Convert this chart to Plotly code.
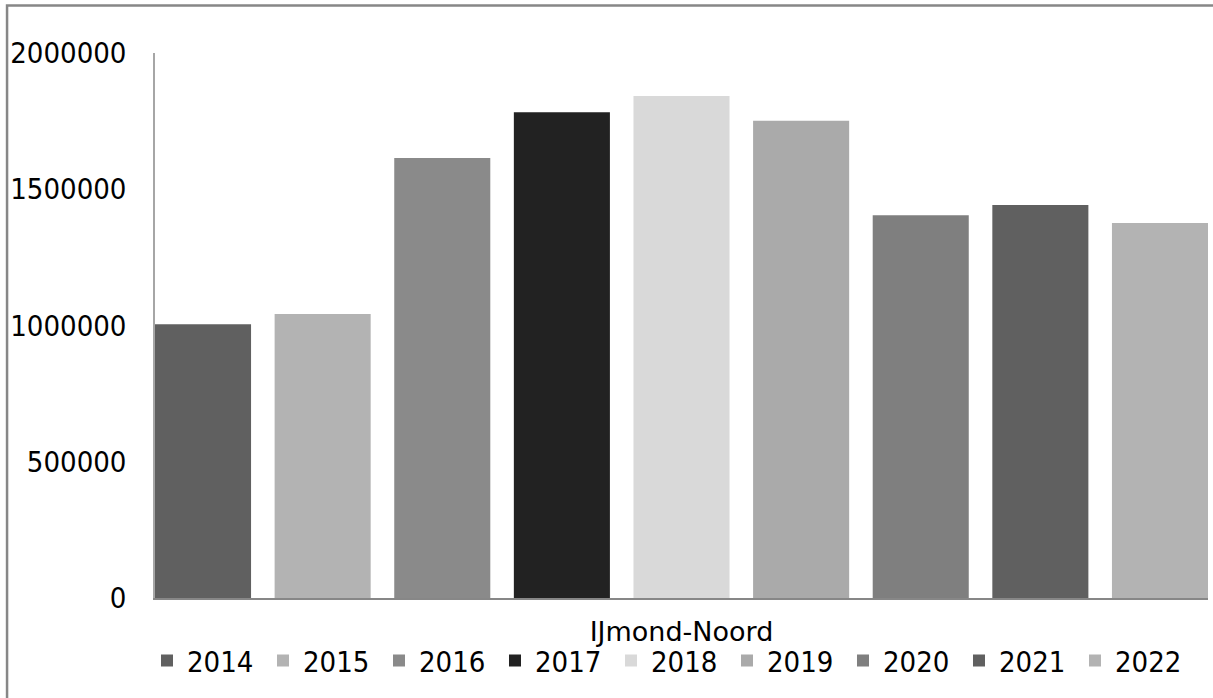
import plotly.graph_objects as go

# Annual totals for one region, one bar per year
region = ["IJmond-Noord"]
years = ["2014", "2015", "2016", "2017", "2018", "2019", "2020", "2021", "2022"]
totals = [1005000, 1042000, 1615000, 1783000, 1842000, 1751000, 1405000, 1442000, 1376000]
bar_colors = ["#606060", "#b3b3b3", "#8a8a8a", "#222222", "#d9d9d9",
              "#aaaaaa", "#7f7f7f", "#606060", "#b3b3b3"]
y_ticks = [0, 500000, 1000000, 1500000, 2000000]

FONT = "DejaVu Sans Condensed, DejaVu Sans, Verdana, sans-serif"
WIDE_FONT = "DejaVu Sans, Verdana, sans-serif"

fig = go.Figure()
for year, value, color in zip(years, totals, bar_colors):
    fig.add_trace(go.Bar(
        name=year,
        x=region,
        y=[value],
        marker=dict(color=color, line=dict(width=0)),
    ))

# half of the inner gap trimmed at both ends so the outer bars touch the axis ends
group_gap = 0.197
edge = (1 / len(years)) * group_gap / 2

fig.update_layout(
    width=1213,
    height=698,
    barmode="group",
    bargap=0,
    bargroupgap=group_gap,
    paper_bgcolor="white",
    plot_bgcolor="white",
    margin=dict(l=155, r=5, t=53, b=100),
    font=dict(family=FONT, size=29, color="black"),
    showlegend=True,
    legend=dict(
        orientation="h",
        x=-0.0076,
        xanchor="left",
        y=-0.115,
        yanchor="middle",
        entrywidth=71,
        entrywidthmode="pixels",
        itemclick=False,
        font=dict(family=FONT, size=29, color="black"),
        bgcolor="rgba(0,0,0,0)",
        traceorder="normal",
    ),
    xaxis=dict(
        range=[-0.5 + edge, 0.5 - edge],
        showline=True,
        linecolor="#878787",
        linewidth=2,
        ticks="",
        showgrid=False,
        zeroline=False,
        ticklabelstandoff=9,
        tickfont=dict(family=WIDE_FONT, size=27, color="black"),
        fixedrange=True,
    ),
    yaxis=dict(
        range=[0, 2000000],
        tickvals=y_ticks,
        tickformat="d",
        showline=True,
        linecolor="#a6a6a6",
        linewidth=1.5,
        ticks="",
        showgrid=False,
        zeroline=False,
        ticklabelstandoff=21,
        tickfont=dict(family=FONT, size=29, color="black"),
        fixedrange=True,
    ),
    shapes=[
        # chart-area frame (top and left edges visible on the page)
        dict(type="rect", xref="paper", yref="paper",
             x0=-0.1405, x1=1.2, y0=-0.4, y1=1.0872,
             line=dict(color="#878787", width=2.5),
             fillcolor="rgba(0,0,0,0)", layer="below"),
    ],
)

fig.write_html("out.html", config={"displayModeBar": False})
